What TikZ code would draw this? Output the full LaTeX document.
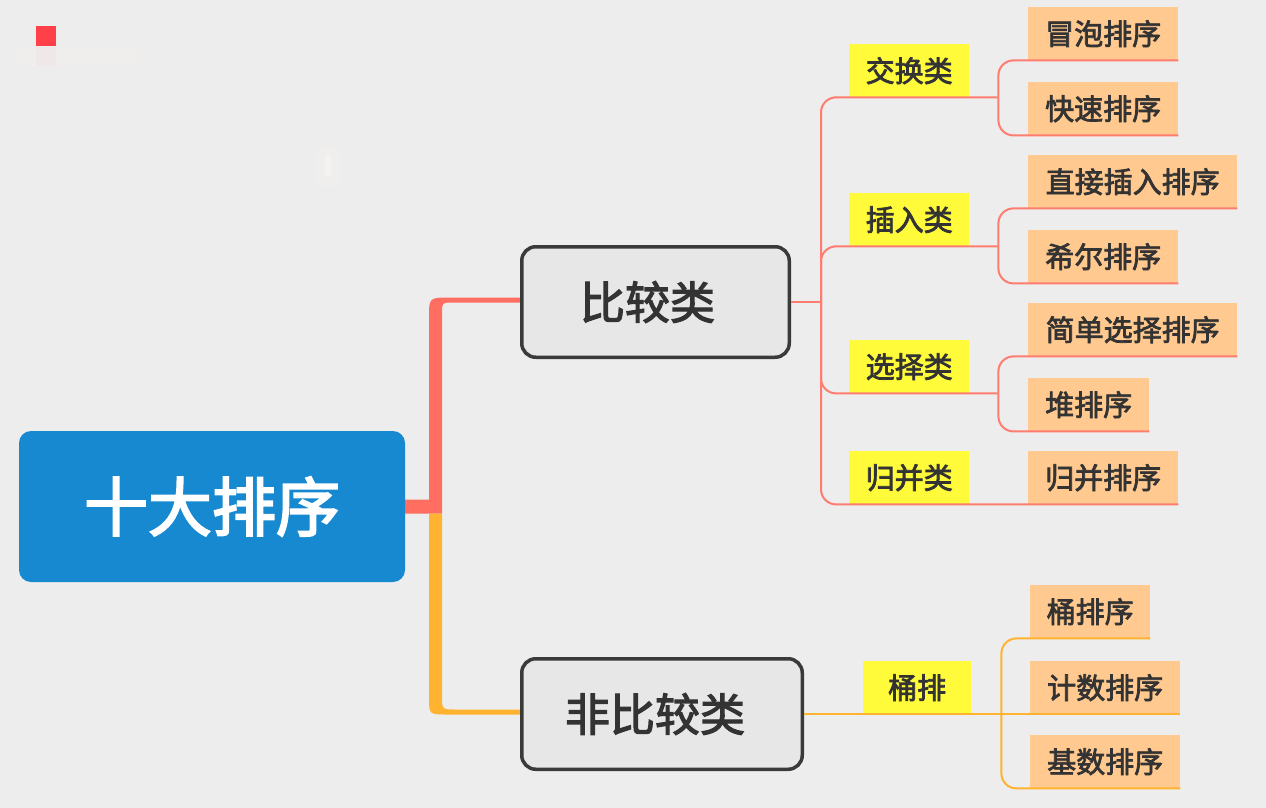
\documentclass[tikz,border=0pt]{standalone}
\usepackage{fontspec}
\newfontfamily\cjk{Noto Sans CJK SC}[FakeBold=2.6]
\newfontfamily\cjkroot{Noto Sans CJK SC}[FakeBold=3]
\usetikzlibrary{calc}
\pgfdeclarelayer{bg}
\pgfsetlayers{bg,main}
\definecolor{bgc}{HTML}{EDEDED}
\definecolor{redsq}{HTML}{FF4049}
\definecolor{faintc}{HTML}{EFEEEC}
\definecolor{faintp}{HTML}{EFE8E8}
\definecolor{faintl}{HTML}{F5F3F1}
\definecolor{rootc}{HTML}{1689D0}
\definecolor{boxc}{HTML}{E7E7E7}
\definecolor{bordc}{HTML}{3A3A3A}
\definecolor{yelc}{HTML}{FFFB3B}
\definecolor{leafc}{HTML}{FFC98F}
\definecolor{thickred}{HTML}{FF6E61}
\definecolor{thinredc}{HTML}{FF7D70}
\definecolor{orc}{HTML}{FFB330}
\definecolor{txtc}{HTML}{333333}
\tikzset{
  rootbox/.style={fill=rootc, rounded corners=12pt, inner sep=0pt, text=white,
    font=\cjkroot\fontsize{64}{70}\selectfont},
  mainbox/.style={draw=bordc, line width=3.5pt, fill=boxc, rounded corners=14pt, inner sep=0pt,
    text=txtc, font=\cjk\fontsize{45}{50}\selectfont},
  catbox/.style={fill=yelc, inner sep=0pt, anchor=north west, minimum height=53pt, text=txtc,
    font=\cjk\fontsize{29}{32}\selectfont},
  leafbox/.style={fill=leafc, inner sep=0pt, anchor=north west, minimum height=53pt, text=txtc,
    font=\cjk\fontsize{29}{32}\selectfont},
  thinred/.style={draw=thinredc, line width=2pt},
  thinor/.style={draw=orc, line width=2pt},
}
\begin{document}
\begin{tikzpicture}[x=1pt,y=-1pt]
\useasboundingbox (0,0) rectangle (1266,808);
\begin{pgfonlayer}{bg}
\fill[bgc] (0,0) rectangle (1266,808);
\fill[faintc] (16,46) rectangle (136,66);
\fill[faintp] (36,46) rectangle (56,66);
\fill[faintc] (316,147) rectangle (340,187);
\fill[faintl] (325,156) rectangle (331,177);
\fill[redsq] (36,26) rectangle (56,46);
\end{pgfonlayer}

% main nodes
\node[rootbox, minimum width=386pt, minimum height=151pt] (root) at (212,506.5) {十大排序};
\node[mainbox, minimum width=267.5pt, minimum height=110.5pt] (cmp) at (655.5,302) {\hspace*{-16pt}比较类};
\node[mainbox, minimum width=280.5pt, minimum height=110.5pt] (ncmp) at (662,714) {\hspace*{-14pt}非比较类};

% category labels
\node[catbox, minimum width=120pt] (jh) at (849,44) {交换类};
\node[catbox, minimum width=120pt] (cr) at (849,193) {插入类};
\node[catbox, minimum width=120pt] (xz) at (849,340) {选择类};
\node[catbox, minimum width=120pt] (gb) at (849,451) {归并类};
\node[catbox, minimum width=108pt] (tp) at (863,661) {桶排};

% leaves
\node[leafbox, minimum width=150pt] (mp) at (1028,7) {冒泡排序};
\node[leafbox, minimum width=150pt] (ks) at (1028,82) {快速排序};
\node[leafbox, minimum width=209pt] (zj) at (1028,155) {直接插入排序};
\node[leafbox, minimum width=150pt] (xe) at (1028,230) {希尔排序};
\node[leafbox, minimum width=209pt] (jd) at (1028,303) {简单选择排序};
\node[leafbox, minimum width=121pt] (dp) at (1028,378) {堆排序};
\node[leafbox, minimum width=150pt] (gbl) at (1028,451) {归并排序};
\node[leafbox, minimum width=120pt] (tpx) at (1030,585) {桶排序};
\node[leafbox, minimum width=150pt] (js) at (1030,661) {计数排序};
\node[leafbox, minimum width=150pt] (jsx) at (1030,735) {基数排序};

% thick branches
\begin{pgfonlayer}{bg}
\fill[thickred] ($(root.east)+(-2,-7)$) -| (429,318) .. controls (429,297.5) .. (450,297.5)
  -- ($(cmp.west |- 0,297.5)+(2,0)$) -- ($(cmp.west |- 0,302.5)+(2,0)$) -- (453,302.5)
  .. controls (442,302.5) .. (442,313) -- (442,513.5) -- ($(root.east)+(-2,7)$) -- cycle;
\fill[orc] (429,513.5) -- (429,697) .. controls (429,714.5) .. (447,714.5)
  -- ($(ncmp.west)+(2,0.5)$) -- ($(ncmp.west)+(2,-4.5)$) -- (456,709.5)
  .. controls (442,709.5) .. (442,696) -- (442,513.5) -- cycle;
\end{pgfonlayer}

% thin red connectors
\coordinate (t1) at ($(cmp.east)+(30,0)$);
\coordinate (s1) at ($(jh.south east)+(29,0)$);
\coordinate (s2) at ($(cr.south east)+(29,0)$);
\coordinate (s3) at ($(xz.south east)+(29,0)$);
\coordinate (s4) at ($(tp.south east)+(30,0)$);
\draw[thinred] (cmp.east) -- (t1);
\draw[thinred, rounded corners=15pt] (t1) |- (jh.south west) -- (s1);
\draw[thinred, rounded corners=15pt] (t1) |- (cr.south west) -- (s2);
\draw[thinred, rounded corners=15pt] (t1) |- (xz.south west) -- (s3);
\draw[thinred, rounded corners=15pt] (t1) |- (gb.south west) -- (gbl.south east);
\draw[thinred, rounded corners=15pt] (s1) |- (mp.south west) -- (mp.south east);
\draw[thinred, rounded corners=15pt] (s1) |- (ks.south west) -- (ks.south east);
\draw[thinred, rounded corners=15pt] (s2) |- (zj.south west) -- (zj.south east);
\draw[thinred, rounded corners=15pt] (s2) |- (xe.south west) -- (xe.south east);
\draw[thinred, rounded corners=15pt] (s3) |- (jd.south west) -- (jd.south east);
\draw[thinred, rounded corners=15pt] (s3) |- (dp.south west) -- (dp.south east);

% thin orange connectors
\draw[thinor] (ncmp.east |- tp.south) -- (tp.south west) -- (js.south east);
\draw[thinor, rounded corners=15pt] (s4) |- (tpx.south west) -- (tpx.south east);
\draw[thinor, rounded corners=15pt] (s4) |- (jsx.south west) -- (jsx.south east);
\end{tikzpicture}
\end{document}
